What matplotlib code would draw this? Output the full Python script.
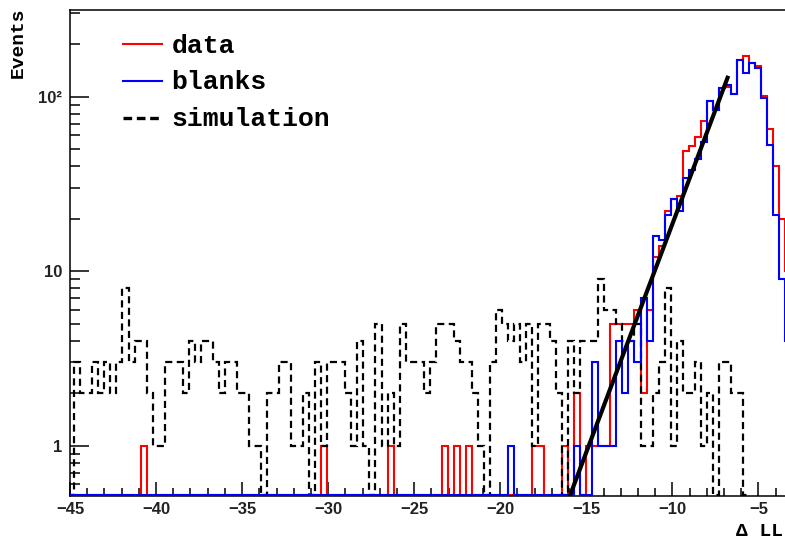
import numpy as np
import matplotlib
matplotlib.use("Agg")
import matplotlib.pyplot as plt
from matplotlib.lines import Line2D
from matplotlib.ticker import FixedLocator, FixedFormatter, MultipleLocator

# histogram binning (0.35 wide bins starting at -45.1)
bin_lo = -45.1
bin_w = 0.35

data = [0, 0, 0, 0, 0, 0, 0, 0, 0, 0,
        0, 0, 1, 0, 0, 0, 0, 0, 0, 0,
        0, 0, 0, 0, 0, 0, 0, 0, 0, 0,
        0, 0, 0, 0, 0, 0, 0, 0, 0, 0,
        0, 0, 1, 0, 0, 0, 0, 0, 0, 0,
        0, 0, 0, 1, 0, 0, 0, 0, 0, 0,
        0, 0, 1, 0, 1, 0, 1, 0, 0, 0,
        0, 0, 0, 0, 0, 0, 0, 1, 1, 0,
        0, 0, 1, 0, 2, 0, 1, 1, 1, 1,
        5, 5, 5, 5, 6, 2, 6, 12, 14, 22,
        26, 27, 49, 52, 59, 73, 94, 84, 112, 113,
        104, 162, 171, 157, 150, 101, 65, 40, 20, 10,
        5]

blanks = [0, 0, 0, 0, 0, 0, 0, 0, 0, 0,
          0, 0, 0, 0, 0, 0, 0, 0, 0, 0,
          0, 0, 0, 0, 0, 0, 0, 0, 0, 0,
          0, 0, 0, 0, 0, 0, 0, 0, 0, 0,
          0, 0, 0, 0, 0, 0, 0, 0, 0, 0,
          0, 0, 0, 0, 0, 0, 0, 0, 0, 0,
          0, 0, 0, 0, 0, 0, 0, 0, 0, 0,
          0, 0, 0, 1, 0, 0, 0, 0, 0, 0,
          0, 0, 0, 0, 1, 0, 0, 3, 1, 1,
          1, 4, 2, 4, 3, 7, 4, 16, 15, 21,
          26, 22, 34, 38, 44, 55, 94, 84, 112, 117,
          104, 162, 137, 157, 147, 98, 53, 21, 9, 4,
          2]

# simulation ends at -5.55 (nothing beyond)
simulation = [0, 3, 2, 2, 3, 2, 3, 2, 3, 8,
              3, 4, 4, 2, 1, 1, 3, 3, 3, 2,
              4, 3, 4, 4, 3, 2, 3, 3, 2, 2,
              1, 1, 0, 2, 2, 3, 3, 1, 1, 2,
              0, 3, 1, 3, 3, 3, 2, 1, 4, 1,
              0, 5, 1, 2, 1, 5, 3, 3, 3, 2,
              3, 5, 5, 5, 4, 3, 3, 2, 1, 0,
              3, 6, 5, 4, 5, 3, 5, 1, 5, 5,
              4, 2, 0, 4, 2, 4, 4, 4, 9, 6,
              6, 5, 4, 4, 5, 1, 1, 2, 3, 8,
              1, 4, 2, 2, 3, 1, 2, 0, 3, 3,
              2, 2, 0]

# exponential fit to the rising edge: exp(p0 + p1*x)
fit_p0 = 8.944
fit_p1 = 0.602
fit_range = (-16.0, -6.75)

W, H = 785, 542
XMIN = -45.0
PX_PER_UNIT = 17.21
YMIN, YMAX = 0.515, 316.0


def fx(px):
    return px / W


def fy(py):
    return 1 - py / H


fig = plt.figure(figsize=(W / 100, H / 100), dpi=100)
ax = fig.add_axes([fx(70), fy(496), 731 / W, (496 - 9.5) / H])
ax.set_yscale('log')
ax.set_xlim(XMIN, XMIN + 731 / PX_PER_UNIT)
ax.set_ylim(YMIN, YMAX)

floor = YMIN * 1.012


def show(v):
    v = np.asarray(v, dtype=float)
    return np.where(v > 0, v, floor)


def edges_for(v):
    return bin_lo + bin_w * np.arange(len(v) + 1)


ax.stairs(show(data), edges_for(data), baseline=None, color='#ff0000', lw=1.5, zorder=2)
ax.stairs(show(simulation), edges_for(simulation), baseline=None, color='black', lw=1.6,
          linestyle=(0, (3.2, 2.0)), zorder=3)
ax.stairs(show(blanks), edges_for(blanks), baseline=None, color='#0000ff', lw=1.5, zorder=4)

xf = np.linspace(fit_range[0], fit_range[1], 200)
ax.plot(xf, np.exp(fit_p0 + fit_p1 * xf), color='black', lw=3.0, zorder=5,
        solid_capstyle='butt')

# axes styling, ROOT like
for s in ['left', 'bottom', 'top']:
    ax.spines[s].set_linewidth(1.1)
ax.spines['right'].set_visible(False)

tick_font = dict(family='Liberation Sans', weight='bold', size=12)
ax.xaxis.set_major_locator(MultipleLocator(5))
ax.xaxis.set_minor_locator(MultipleLocator(1))
ax.yaxis.set_major_locator(FixedLocator([1, 10, 100]))
ax.yaxis.set_major_formatter(FixedFormatter(['1', '10', '10²']))
minor_y = [0.6, 0.7, 0.8, 0.9] + [m * 10 ** e for e in range(0, 3) for m in range(2, 10)]
ax.yaxis.set_minor_locator(FixedLocator([m for m in minor_y if m < YMAX]))
ax.yaxis.set_minor_formatter(FixedFormatter([]))

ax.tick_params(axis='x', which='major', direction='in', length=10, width=1.1,
               pad=4.5, top=False, labelcolor='#222222')
ax.tick_params(axis='x', which='minor', direction='in', length=5.5, width=1.1, top=False)
ax.tick_params(axis='y', which='major', direction='in', length=14, width=1.1,
               pad=5.8, right=False, labelcolor='#222222')
ax.tick_params(axis='y', which='minor', direction='in', length=7, width=1.1, right=False)
for lab in ax.get_xticklabels() + ax.get_yticklabels():
    lab.set_fontproperties(matplotlib.font_manager.FontProperties(**tick_font))

mono = dict(family='Liberation Mono', weight='bold')

# legend drawn by hand at the ROOT positions
legend = [('data', dict(color='#ff0000', lw=1.5)),
          ('blanks', dict(color='#0000ff', lw=1.5)),
          ('simulation', dict(color='black', lw=2.4, linestyle=(0, (2.6, 1.4))))]
for i, (name, style) in enumerate(legend):
    ly = 44 + 37 * i
    fig.add_artist(Line2D([fx(123), fx(162)], [fy(ly), fy(ly)],
                          transform=fig.transFigure, **style))
    fig.text(fx(171.5), fy(52.7 + 36.7 * i), name, ha='left', va='baseline',
             fontsize=19, **mono)

fig.text(fx(18.5), fy(8), 'Events', rotation=90, ha='center', va='top',
         fontsize=14, **mono)
fig.text(fx(736), fy(531.7), 'Δ LL', ha='left', va='center', fontsize=14, **mono)

fig.savefig('out.png', dpi=100)
